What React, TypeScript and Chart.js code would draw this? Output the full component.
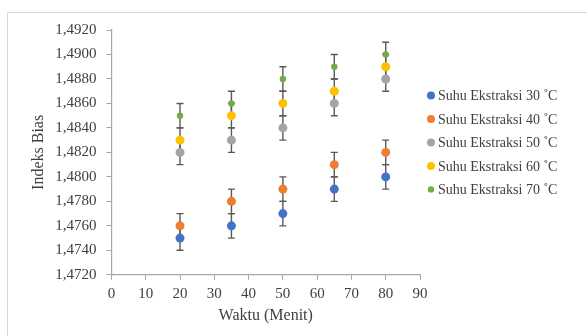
import React, { useEffect, useRef } from "react";
import { Chart, registerables } from "chart.js";

Chart.register(...registerables);

const times = [20, 35, 50, 65, 80];
const seriesLabels = [
  "Suhu Ekstraksi 30 ˚C",
  "Suhu Ekstraksi 40 ˚C",
  "Suhu Ekstraksi 50 ˚C",
  "Suhu Ekstraksi 60 ˚C",
  "Suhu Ekstraksi 70 ˚C",
];
const suhu30 = [1.475, 1.476, 1.477, 1.479, 1.48];
const suhu40 = [1.476, 1.478, 1.479, 1.481, 1.482];
const suhu50 = [1.482, 1.483, 1.484, 1.486, 1.488];
const suhu60 = [1.483, 1.485, 1.486, 1.487, 1.489];
const suhu70 = [1.485, 1.486, 1.488, 1.489, 1.49];
const err30 = [0.001, 0.001, 0.001, 0.001, 0.001];
const err40 = [0.001, 0.001, 0.001, 0.001, 0.001];
const err50 = [0.001, 0.001, 0.001, 0.001, 0.001];
const err60 = [0.001, 0.001, 0.001, 0.001, 0.001];
const err70 = [0.001, 0.001, 0.001, 0.001, 0.001];
const colors = ["#4472C4", "#ED7D31", "#A5A5A5", "#FFC000", "#70AD47"];
const radii = [4.5, 4.5, 4.5, 4.5, 3.2];

const FONT = '"Liberation Serif", "Times New Roman", serif';

const errorBarPlugin = {
  id: "errorBars",
  beforeDatasetsDraw(chart: any) {
    const ctx = chart.ctx;
    const yScale = chart.scales.y;
    ctx.save();
    ctx.strokeStyle = "#595959";
    ctx.lineWidth = 1.4;
    chart.data.datasets.forEach((ds: any, i: number) => {
      const meta = chart.getDatasetMeta(i);
      if (meta.hidden) return;
      meta.data.forEach((pt: any, j: number) => {
        const v = ds.data[j].y;
        const e = ds.errors[j];
        const x = pt.x;
        const yTop = yScale.getPixelForValue(v + e);
        const yBot = yScale.getPixelForValue(v - e);
        const cap = 3.5;
        ctx.beginPath();
        ctx.moveTo(x, yTop);
        ctx.lineTo(x, yBot);
        ctx.moveTo(x - cap, yTop);
        ctx.lineTo(x + cap, yTop);
        ctx.moveTo(x - cap, yBot);
        ctx.lineTo(x + cap, yBot);
        ctx.stroke();
      });
    });
    ctx.restore();
  },
};

const sideLegendPlugin = {
  id: "sideLegend",
  afterDraw(chart: any) {
    const ctx = chart.ctx;
    const area = chart.chartArea;
    const rowGap = 23.5;
    const n = chart.data.datasets.length;
    const midY = (area.top + area.bottom) / 2 - 10;
    const markerX = area.right + 11;
    const textX = area.right + 18;
    ctx.save();
    ctx.font = `14px ${FONT}`;
    ctx.textBaseline = "middle";
    ctx.textAlign = "left";
    chart.data.datasets.forEach((ds: any, i: number) => {
      const y = midY + (i - (n - 1) / 2) * rowGap;
      ctx.beginPath();
      ctx.fillStyle = ds.backgroundColor;
      ctx.arc(markerX, y, Math.min(ds.pointRadius, 4), 0, Math.PI * 2);
      ctx.fill();
      ctx.fillStyle = "#404040";
      ctx.fillText(ds.label, textX, y + 1);
    });
    ctx.restore();
  },
};

export default function App() {
  const ref = useRef<HTMLCanvasElement | null>(null);

  useEffect(() => {
    if (!ref.current) return;
    const values = [suhu30, suhu40, suhu50, suhu60, suhu70];
    const errs = [err30, err40, err50, err60, err70];
    const chart = new Chart(ref.current, {
      type: "scatter",
      data: {
        datasets: values.map((vals, i) => ({
          label: seriesLabels[i],
          data: times.map((t, j) => ({ x: t, y: vals[j] })),
          errors: errs[i],
          backgroundColor: colors[i],
          borderColor: colors[i],
          pointRadius: radii[i],
          pointHoverRadius: radii[i],
          pointBorderWidth: 0,
          pointStyle: "circle",
        })) as any,
      },
      plugins: [errorBarPlugin, sideLegendPlugin],
      options: {
        animation: false,
        responsive: false,
        layout: { padding: { left: 21, right: 167, top: 9, bottom: 3 } },
        plugins: {
          tooltip: { enabled: false },
          legend: { display: false },
        },
        scales: {
          x: {
            type: "linear",
            min: 0,
            max: 90,
            ticks: {
              stepSize: 10,
              color: "#404040",
              font: { family: FONT, size: 15 },
              padding: 5,
            },
            grid: {
              drawOnChartArea: false,
              drawTicks: true,
              tickLength: 5,
              color: "#A6A6A6",
            },
            border: { color: "#A6A6A6", width: 1.2 },
            title: {
              display: true,
              text: "Waktu (Menit)",
              color: "#404040",
              font: { family: FONT, size: 16 },
              padding: { top: -2, bottom: 8 },
            },
          },
          y: {
            type: "linear",
            min: 1.472,
            max: 1.492,
            ticks: {
              stepSize: 0.002,
              color: "#404040",
              font: { family: FONT, size: 15 },
              padding: 10,
              callback: (v: any) => Number(v).toFixed(4).replace(".", ","),
            },
            grid: {
              drawOnChartArea: false,
              drawTicks: true,
              tickLength: 5,
              color: "#A6A6A6",
            },
            border: { color: "#A6A6A6", width: 1.2 },
            title: {
              display: true,
              text: "Indeks Bias",
              color: "#404040",
              font: { family: FONT, size: 16 },
              padding: { top: 0, bottom: -3 },
            },
          },
        },
      },
    });
    return () => chart.destroy();
  }, []);

  return (
    <div
      style={{
        position: "fixed",
        left: 0,
        top: 0,
        width: 587,
        height: 336,
        overflow: "hidden",
        background: "#fff",
      }}
    >
      <div
        style={{
          position: "absolute",
          left: 7,
          top: 12,
          width: 620,
          height: 360,
          border: "1px solid #D9D9D9",
        }}
      >
        <canvas
          ref={ref}
          width={579}
          height={325}
          style={{ position: "absolute", left: 0, top: -2, width: 579, height: 325 }}
        />
      </div>
    </div>
  );
}
